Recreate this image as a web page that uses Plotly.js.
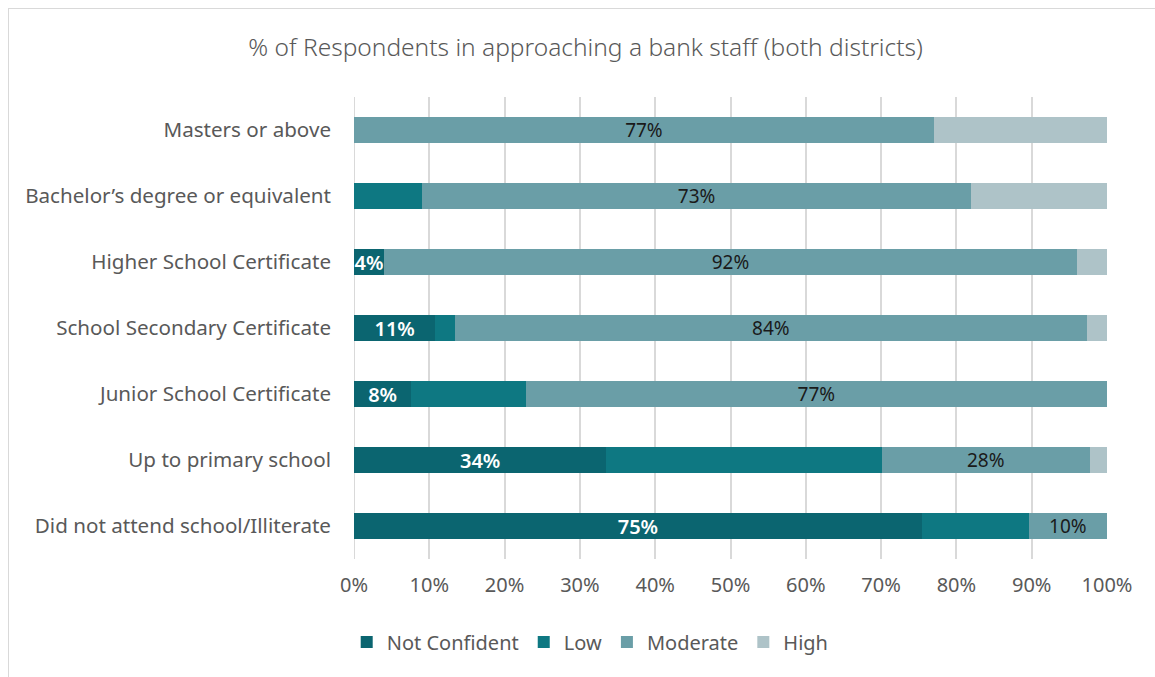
<!DOCTYPE html>
<html>
<head>
<meta charset="utf-8">
<script src="https://cdn.plot.ly/plotly-3.0.1.min.js"></script>
<style>
html,body{margin:0;padding:0;background:#fff;overflow:hidden;}
#chart{position:absolute;left:0;top:0;width:1155px;height:677px;}
#frame{position:absolute;left:8px;top:8px;width:1200px;height:700px;border-left:1px solid #d9d9d9;border-top:1px solid #d9d9d9;pointer-events:none;}
</style>
</head>
<body>
<div id="chart"></div>
<div id="frame"></div>
<script>
const categories = ["Masters or above","Bachelor’s degree or equivalent","Higher School Certificate","School Secondary Certificate","Junior School Certificate","Up to primary school","Did not attend school/Illiterate"];
const notConfident = [0, 0, 4, 10.8, 7.6, 33.5, 75.4];
const low = [0, 9, 0, 2.6, 15.2, 36.6, 14.2];
const moderate = [77, 73, 92, 83.9, 77.2, 27.6, 10.4];
const high = [23, 18, 4, 2.7, 0, 2.3, 0];
const xTickVals = [0,10,20,30,40,50,60,70,80,90,100];
const xTickText = ["0%","10%","20%","30%","40%","50%","60%","70%","80%","90%","100%"];

const FONT = "Noto Sans, Open Sans, sans-serif";
function lbl(arr){ return arr.map(v => v > 0 ? Math.round(v) + "%" : ""); }

const traces = [
  {name:"Not Confident", x:notConfident, y:categories, marker:{color:"#0b6570"},
   text:lbl(notConfident), textposition:"inside", insidetextanchor:"middle", constraintext:"none",
   insidetextfont:{color:"#ffffff", size:20, family:FONT, weight:600}},
  {name:"Low", x:low, y:categories, marker:{color:"#0e7882"}, textposition:"none"},
  {name:"Moderate", x:moderate, y:categories, marker:{color:"#6a9ea7"},
   text:lbl(moderate), textposition:"inside", insidetextanchor:"middle", constraintext:"none",
   insidetextfont:{color:"#1a1a1a", size:19, family:FONT}},
  {name:"High", x:high, y:categories, marker:{color:"#aec3c8"}, textposition:"none"}
].map(t => Object.assign({type:"bar", orientation:"h", hoverinfo:"x+name", cliponaxis:false}, t));

const layout = {
  width:1155, height:677,
  barmode:"stack", bargap:0.6,
  margin:{l:354, r:48, t:97, b:118},
  paper_bgcolor:"#ffffff", plot_bgcolor:"#ffffff",
  font:{family:FONT, color:"#595959", size:20},
  title:{text:"% of Respondents in approaching a bank staff (both districts)", font:{size:24.5, color:"#595959", family:FONT, weight:300},
         x:0.507, xref:"container", xanchor:"center", y:1-47/677, yref:"container", yanchor:"middle"},
  xaxis:{range:[0,100.001], tickvals:xTickVals, ticktext:xTickText, showgrid:true, gridcolor:"#d9d9d9", gridwidth:2,
         zeroline:false, showline:false, ticks:"", ticklabelstandoff:12, tickfont:{size:20, color:"#595959"}, fixedrange:true},
  yaxis:{autorange:"reversed", showgrid:false, zeroline:false, showline:false, ticks:"", ticklabelstandoff:22,
         tickfont:{size:20.6, color:"#595959"}, fixedrange:true},
  showlegend:true,
  legend:{orientation:"h", xref:"container", yref:"container", x:0.511, xanchor:"center", y:1-642/677, yanchor:"middle",
          font:{size:20, color:"#595959"}, traceorder:"normal", itemclick:false},
  shapes:[{type:"line", xref:"x", yref:"paper", x0:0, x1:0, y0:0, y1:1, line:{color:"#d9d9d9", width:2}, layer:"below"}]
};

Plotly.newPlot("chart", traces, layout, {displayModeBar:false, staticPlot:true});
</script>
</body>
</html>
